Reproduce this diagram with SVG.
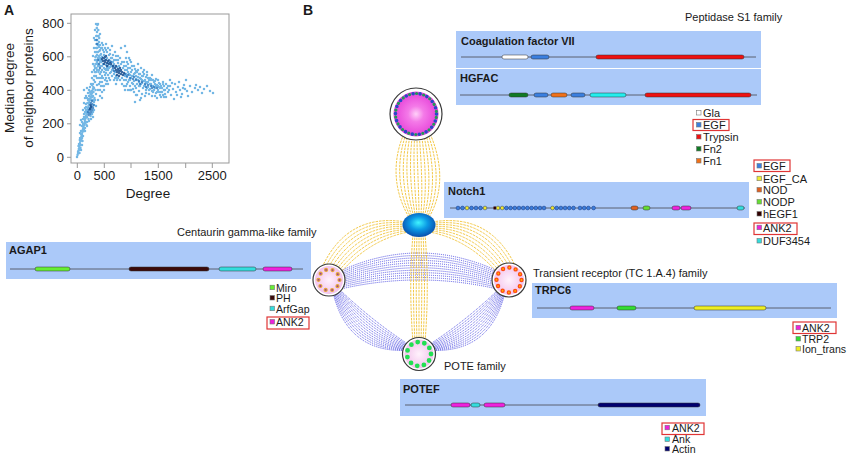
<svg xmlns="http://www.w3.org/2000/svg" width="851" height="456" viewBox="0 0 851 456">
<defs>
<radialGradient id="gMag" cx="50%" cy="50%" r="50%">
<stop offset="0" stop-color="#ffd0f8"/><stop offset="0.35" stop-color="#f47ae8"/><stop offset="1" stop-color="#e640d8"/>
</radialGradient>
<radialGradient id="gPale" cx="50%" cy="50%" r="50%">
<stop offset="0" stop-color="#fff2fc"/><stop offset="1" stop-color="#f3c3ec"/>
</radialGradient>
<radialGradient id="gBlue" cx="50%" cy="45%" r="55%" fx="48%" fy="40%">
<stop offset="0" stop-color="#40f4ff"/><stop offset="0.5" stop-color="#0a98e4"/><stop offset="1" stop-color="#0a4fae"/>
</radialGradient>
<g id="yL">
<path d="M406 222Q345 212 320 272M406 223.5Q348.6 216 323 272M406 225Q352.1 220 326 272M406 226.5Q355.7 224 329 272M406 228Q359.3 228 332 272M406 229.5Q362.9 232 335 272M406 231Q366.4 236 338 272M406 232.5Q370 240 341 272"/>
</g>
<g id="bL">
<path d="M339 289Q372.8 321.6 411 346M338.5 289.5Q370.5 324.4 410.6 346.4M338 290Q368.3 327.2 410.2 346.8M337.5 290.5Q366.1 330 409.8 347.2M337 291Q363.8 332.9 409.4 347.6M336.5 291.5Q361.6 335.7 409 348M336 292Q359.4 338.5 408.6 348.4M335.5 292.5Q357.1 341.4 408.2 348.8M335 293Q354.9 344.2 407.8 349.2M334.5 293.5Q352.7 347 407.4 349.6M334 294Q350.4 349.8 407 350M333.5 294.5Q348.2 352.7 406.6 350.4"/>
</g>
</defs>
<style>
text{font-family:"Liberation Sans",Arial,sans-serif;fill:#1a1a1a}
.t13{font-size:13px}
.t11{font-size:11px}
.t10{font-size:10.6px}
.lbl{font-size:11px;font-weight:bold}
.pl{font-weight:bold;font-size:14px}
.box{fill:#abc9f9}
.bb{fill:none;stroke:#e03535;stroke-width:1.2}
.ln{stroke:#5a6070;stroke-width:1;fill:none}
.dm{stroke:#333;stroke-width:0.5}
.sq{stroke:#777;stroke-width:0.6}
.yel{fill:none;stroke:#f0c234;stroke-width:0.9;stroke-dasharray:2.5 1}
.blu{fill:none;stroke:#4646e0;stroke-width:0.9;stroke-dasharray:1 1}
.nd{stroke:#3a3a3a;stroke-width:1.2}
.ax{stroke:#999;stroke-width:1;fill:none}
.nb{fill:#3c7ddb;stroke:#1a3a80;stroke-width:0.5}
.ny{fill:#f2e52a;stroke:#1a3a80;stroke-width:0.5}
.pt{fill:none;stroke-linecap:round}
</style>

<g id="panelA">
<text x="4" y="15" class="pl">A</text>
<rect x="71" y="14" width="158" height="149" class="ax"/>
<path class="ax" d="M67 157.3H71M67 123.8H71M67 90.3H71M67 56.8H71M67 23.3H71M77.3 163V168M104.3 163V168M131 163V168M158.3 163V168M185.7 163V168M212.3 163V168"/>
<g class="t13" text-anchor="end">
<text x="64" y="161.8">0</text><text x="64" y="128.3">200</text><text x="64" y="94.8">400</text><text x="64" y="61.3">600</text><text x="64" y="27.8">800</text>
</g>
<g class="t13" text-anchor="middle">
<text x="77.3" y="180">0</text><text x="104.3" y="180">500</text><text x="158.3" y="180">1500</text><text x="212.3" y="180">2500</text>
<text x="148" y="198" style="font-size:13.5px">Degree</text>
<text transform="translate(13.5,88) rotate(-90)" style="font-size:13.5px">Median degree</text>
<text transform="translate(32.5,88) rotate(-90)" style="font-size:13.5px">of neighbor proteins</text>
</g>
<path class="pt" stroke="#5aaae0" stroke-opacity="0.85" stroke-width="2.5" d="M77 157h0M77.5 155h0M78 153.5h0M78.3 151h0M78.8 149h0M79.2 147h0M79.5 145h0M80 143h0M80.2 141h0M80.7 139h0M81 137.5h0M81.5 136h0M81.3 140h0M82 134h0M82.4 132h0M82.8 130h0M83.1 128.5h0M83.6 127h0M84 125h0M83.8 129h0M84.4 123h0M84.9 121h0M85.2 119.5h0M85.7 118h0M86 116h0M86.4 114h0M85.5 123h0M86.8 112.5h0M87.2 111h0M87.6 109h0M88 107.5h0M88.5 106h0M89 104h0M87 117h0M88 113h0M89.4 102h0M89.9 100h0M90.3 98.5h0M91 97h0M91.4 95h0M92 93h0M91.8 100h0M92.5 91h0M92.9 89h0M93.3 87h0M80 133h0M82 126h0M84 117h0M85 112h0M86 107h0M88 100h0M89 96h0M90 92h0M78.5 146h0M79.8 140h0M81 134h0M83 124h0M84.5 118h0M86 110h0M87.5 103h0M89 99h0M90.5 94h0M91.5 91h0M83 136h0M85 128h0M87 122h0M79 150h0M80.5 145h0M82 138h0
M78 152h0M79 144h0M80 138h0M81 131h0M82 122h0M83 119h0M84 114h0M85 108h0M86 104h0M87 98h0M88 93h0M89 90h0M90 87h0M91 84h0M80.5 148h0M82.5 141h0M84.5 131h0M86.5 125h0M88.5 119h0M90.5 116h0M92 114h0M93 112h0M94 110h0M93 117h0M91 119h0M89 121h0M87 126h0M85 131h0M92 97h0M93 100h0M94 105h0M95 100h0M82 145h0M81 150h0M79.5 153h0M86 96h0M84 103h0M83 110h0M81 120h0M80 125h0M85 98h0M87 88h0M84 90h0
M93 84h0M93.8 80h0M94.2 76h0M94.8 72h0M95 68h0M95.5 64h0M96 60h0M96.3 56h0M96.8 52h0M97 48h0M96.5 44h0M97.2 40h0M96.2 36h0M97 32h0M96.8 28h0M97.5 25h0M98 24h0M98.3 30h0M98.6 36h0M99 42h0M98.8 47h0M99.5 51h0M94 88h0M93.5 92h0M95 82h0M96 76h0M97 70h0M97.5 64h0M98 58h0M95.4 57h0M94.6 66h0M96.2 48h0M97.8 44h0M99.2 38h0M100 45h0M100.5 55h0M101 60h0M94 70h0M95 52h0M96.5 68h0M93 96h0M94.5 98h0M95.5 90h0M92 85h0M97 78h0M98.5 72h0M99.5 66h0M100 34h0M95 40h0M101 48h0M102 43h0
M97 62h0M98 66h0M99 70h0M100 74h0M101 78h0M102 82h0M103 86h0M104 90h0M105 75h0M106 78h0M107 81h0M108 84h0M109 78h0M110 80h0M111 72h0M112 66h0M113 70h0M114 74h0M115 78h0M116 76h0M117 80h0M98 52h0M99 56h0M100 50h0M101 54h0M102 48h0M104 52h0M106 50h0M108 48h0M110 54h0M112 58h0M114 60h0M116 56h0M118 60h0M120 58h0M122 62h0M124 66h0M97 55h0M96 72h0M95 60h0M99 84h0M100 90h0M102 76h0M104 68h0M106 70h0M108 66h0M110 67h0M112 62h0M114 64h0M102 66h0M100 62h0M97 36h0M98 45h0M96 24h0M95 30h0M94 38h0M94 48h0M93 56h0M93 64h0M92 72h0M92 78h0
M100 58h0M101 62h0M102 57h0M103 64h0M104 55h0M105 60h0M106 65h0M107 58h0M108 63h0M109 68h0M110 61h0M111 66h0M112 70h0M102 70h0M104 72h0M106 73h0M108 75h0M100 66h0M101 72h0M103 50h0M105 48h0M107 52h0M109 55h0M111 58h0M113 62h0M103 78h0M105 80h0M107 68h0M110 73h0M112 76h0M99 78h0M100 82h0M101 86h0M98 90h0M102 92h0M104 86h0M106 84h0M99 60h0M97 85h0M113 55h0M115 52h0M116 60h0M114 66h0M117 67h0M118 63h0M119 70h0M96 94h0M98 100h0M100 96h0M102 98h0M94 102h0M96 106h0M105 69h0M108 70h0M103 45h0M106 44h0M110 50h0M112 46h0M118 56h0M121 48h0M125 46h0M127 52h0M118 78h0M120 80h0M116 84h0M114 80h0
M115 72h0M117 78h0M119 66h0M121 64h0M122 78h0M123 68h0M124 80h0M125 70h0M126 74h0M127 77h0M128 72h0M129 80h0M130 75h0M131 78h0M132 83h0M133 76h0M134 81h0M135 73h0M136 79h0M137 84h0M138 77h0M139 82h0M140 86h0M141 79h0M142 83h0M143 88h0M144 81h0M145 85h0M146 90h0M147 83h0M148 87h0M149 80h0M150 89h0M151 84h0M152 91h0M153 86h0M154 82h0M155 88h0M156 93h0M157 85h0M158 90h0M159 87h0M160 84h0M161 92h0M162 88h0M163 95h0M164 86h0M165 90h0M126 66h0M128 64h0M130 68h0M132 70h0M134 66h0M136 71h0M138 70h0M140 74h0M142 76h0M144 74h0M146 77h0M148 78h0M130 86h0M133 89h0M136 88h0M139 91h0M142 94h0M145 96h0M128 90h0M124 86h0M122 84h0M131 62h0M129 58h0M138 64h0M141 68h0M124 62h0M126 58h0M150 78h0M153 80h0M156 79h0M135 102h0M140 100h0M136 95h0M127 84h0M125 90h0M144 70h0M147 72h0M152 75h0M158 80h0M160 95h0M155 96h0
M125 76h0M126 80h0M127 70h0M128 82h0M129 74h0M130 80h0M131 72h0M132 76h0M133 84h0M134 74h0M135 86h0M136 76h0M137 72h0M138 80h0M139 86h0M140 78h0M141 84h0M142 80h0M143 76h0M144 86h0M145 80h0M146 82h0M147 88h0M148 82h0M149 90h0M150 84h0M151 80h0M152 86h0M153 92h0M154 90h0M155 84h0M156 86h0M157 92h0M158 86h0M159 92h0M160 88h0M161 86h0M162 92h0M163 84h0M164 90h0M165 94h0M131 90h0M134 92h0M137 95h0M141 98h0M146 93h0M149 94h0M152 96h0M157 98h0M161 97h0M164 97h0M126 86h0M130 90h0M135 69h0M139 74h0M143 72h0M147 75h0M151 79h0M155 81h0M159 83h0M163 82h0M128 68h0M132 66h0M127 62h0M130 60h0
M167 88h0M168 92h0M170 86h0M171 95h0M173 89h0M175 84h0M176 92h0M178 87h0M180 90h0M182 94h0M184 85h0M185 89h0M187 91h0M190 86h0M192 92h0M195 88h0M198 90h0M200 87h0M204 89h0M207 86h0M210 91h0M213 93h0M170 80h0M174 99h0M179 82h0M186 80h0M196 85h0M188 96h0M202 93h0M166 97h0M172 83h0M181 97h0M169 90h0M177 95h0M183 88h0M166 84h0M168 86h0"/>
<path class="pt" stroke="#2f78bd" stroke-opacity="0.8" stroke-width="2.5" d="M127 76h0M130 78h0M133 79h0M136 80h0M139 81h0M142 82h0M145 84h0M148 85h0M151 86h0M154 87h0M157 88h0M134 77h0M140 84h0M146 87h0M152 88h0M88 112h0M89 110h0M90 108h0M91 106h0M92 104h0M89.5 113h0M90.5 111h0M91.5 109h0M92.5 107h0M90 114h0M91 112h0M92 110h0M93 108h0M93.5 105h0M88.5 115h0M91 103h0M92 101h0M98 60h0M99 64h0M100 68h0M109 60h0M111 62h0M113 68h0M114 71h0M125 74h0M128 75h0M97 44h0M96.5 40h0"/>
<path class="pt" stroke="#174f8f" stroke-opacity="0.85" stroke-width="2.5" d="M102 59h0M103 61h0M104 58h0M105 62h0M106 60h0M107 63h0M104 64h0M105 57h0M106 56h0M103 58h0M108 61h0M109 64h0M107 66h0M104 61h0M110 63h0M116 70h0M117 72h0M118 69h0M119 73h0M120 71h0M121 74h0M122 72h0M119 76h0M117 75h0M118 71h0M120 68h0M121 70h0M123 75h0M124 73h0M115 68h0M113 66h0M111 64h0M116 66h0M90 109h0M91 107h0M90.5 105h0"/>
</g>

<text x="303" y="15" class="pl">B</text>

<g id="connectors">
<path class="yel" d="M403.8 134C391.8 162 393.8 192 409.4 218M406 134C396 162 398 192 411 218M408.2 134C400.2 162 402.2 192 412.6 218M410.4 134C404.4 162 406.4 192 414.2 218M412.6 134C408.6 162 410.6 192 415.8 218M414.8 134C412.8 162 414.8 192 417.4 218M417 134C417 162 419 192 419 218M419.2 134C421.2 162 423.2 192 420.6 218M421.4 134C425.4 162 427.4 192 422.2 218M423.6 134C429.6 162 431.6 192 423.8 218M425.8 134C433.8 162 435.8 192 425.4 218M428 134C438 162 440 192 427 218M430.2 134C442.2 162 444.2 192 428.6 218"/>
<path class="blu" d="M338 272Q419 234 500 272M338 273.6Q419 237.3 500 273.6M338 275.2Q419 240.6 500 275.2M338 276.8Q419 243.9 500 276.8M338 278.4Q419 247.2 500 278.4M338 280Q419 250.5 500 280M338 281.6Q419 253.8 500 281.6M338 283.2Q419 257.1 500 283.2M338 284.8Q419 260.4 500 284.8M338 286.4Q419 263.7 500 286.4M338 288Q419 267 500 288M338 289.6Q419 270.3 500 289.6"/>
<use href="#bL" class="blu"/>
<use href="#bL" class="blu" transform="translate(838,0) scale(-1,1)"/>
<use href="#yL" class="yel"/>
<use href="#yL" class="yel" transform="translate(838,0) scale(-1,1)"/>
<path class="yel" d="M413 234C410 270 410 305 413 342M415 234C413 270 413 305 415 342M417 234C416 270 416 305 417 342M419 234C419 270 419 305 419 342M421 234C422 270 422 305 421 342M423 234C425 270 425 305 423 342M425 234C428 270 428 305 425 342"/>
</g>

<g id="node-peptidase">
<circle cx="416" cy="114" r="26" fill="#fff" class="nd"/>
<circle cx="416" cy="114" r="22.5" fill="url(#gMag)"/>
<circle cx="416" cy="114" r="20.5" fill="none" stroke="#2848c8" stroke-width="3.6" stroke-linecap="round" stroke-dasharray="0 7.156"/>
<circle cx="416" cy="114" r="20.5" fill="none" stroke="#1f9a55" stroke-width="3.2" stroke-linecap="round" stroke-dasharray="0 7.156" stroke-dashoffset="3.578"/>
</g>
<g id="node-notch">
<ellipse cx="419" cy="225" rx="16.5" ry="12" fill="url(#gBlue)"/>
</g>
<g id="node-centaurin">
<circle cx="329" cy="280" r="16" fill="#fff" class="nd"/>
<circle cx="329" cy="280" r="14" fill="url(#gPale)"/>
<circle cx="329" cy="280" r="10.5" fill="none" stroke="#e2a838" stroke-width="4.2" stroke-linecap="round" stroke-dasharray="0 6.597"/>
<circle cx="329" cy="280" r="10.5" fill="none" stroke="#9a3c9c" stroke-width="1.8" stroke-linecap="round" stroke-dasharray="0 6.597"/>
</g>
<g id="node-transient">
<circle cx="509" cy="280" r="17" fill="#fff" class="nd"/>
<circle cx="509" cy="280" r="15" fill="url(#gPale)"/>
<circle cx="509" cy="280" r="12.5" fill="none" stroke="#ff4a12" stroke-width="4.4" stroke-linecap="round" stroke-dasharray="0 6.545"/>
<circle cx="509" cy="280" r="12.5" fill="none" stroke="#ffb400" stroke-width="1.8" stroke-linecap="round" stroke-dasharray="0 6.545"/>
</g>
<g id="node-pote">
<circle cx="419" cy="354" r="16.5" fill="#fff" class="nd"/>
<circle cx="419" cy="354" r="14.5" fill="url(#gPale)"/>
<circle cx="419" cy="354" r="12" fill="none" stroke="#22e052" stroke-width="4.8" stroke-linecap="round" stroke-dasharray="0 6.854"/>
</g>

<g id="family-peptidase">
<text x="685" y="21" class="t11">Peptidase S1 family</text>
<rect x="456" y="31" width="305" height="37" class="box"/>
<text x="461" y="44.5" class="lbl">Coagulation factor VII</text>
<path class="ln" d="M461 57H756"/>
<rect x="502" y="55" width="26" height="4" rx="2" fill="#fff" class="dm"/>
<rect x="531" y="55" width="18" height="4" rx="2" fill="#3a7fe0" class="dm"/>
<rect x="596" y="55" width="148" height="4" rx="2" fill="#ee1111" class="dm"/>
<rect x="456" y="69" width="305" height="36" class="box"/>
<text x="460" y="82" class="lbl">HGFAC</text>
<path class="ln" d="M460 95H757"/>
<rect x="509" y="93" width="19" height="4" rx="2" fill="#107a24" class="dm"/>
<rect x="534" y="93" width="14" height="4" rx="2" fill="#3a7fe0" class="dm"/>
<rect x="551" y="93" width="16" height="4" rx="2" fill="#f07018" class="dm"/>
<rect x="571" y="93" width="14" height="4" rx="2" fill="#3a7fe0" class="dm"/>
<rect x="590" y="93" width="36" height="4" rx="2" fill="#22eeee" class="dm"/>
<rect x="645" y="93" width="106" height="4" rx="2" fill="#ee1111" class="dm"/>
<rect x="696.5" y="110.5" width="4.5" height="4.5" fill="#fff" class="sq"/>
<rect x="696.5" y="122.5" width="4.5" height="4.5" fill="#3a7fe0" class="sq"/>
<rect x="696.5" y="134.5" width="4.5" height="4.5" fill="#ee1111" class="sq"/>
<rect x="696.5" y="146.5" width="4.5" height="4.5" fill="#107a24" class="sq"/>
<rect x="696.5" y="158.5" width="4.5" height="4.5" fill="#f07018" class="sq"/>
<g class="t11"><text x="703" y="117">Gla</text><text x="703" y="129">EGF</text><text x="703" y="141">Trypsin</text><text x="703" y="153">Fn2</text><text x="703" y="165">Fn1</text></g>
<rect x="693" y="119.5" width="36" height="11" class="bb"/>
</g>

<g id="family-notch">
<rect x="444" y="182" width="305" height="36" class="box"/>
<text x="448" y="194.5" class="lbl">Notch1</text>
<path class="ln" d="M450 208H745"/>
<circle cx="458" cy="208" r="1.9" class="nb"/><circle cx="462.5" cy="208" r="1.9" class="nb"/><circle cx="467" cy="208" r="1.9" class="ny"/><circle cx="471.5" cy="208" r="1.9" class="nb"/><circle cx="476" cy="208" r="1.9" class="nb"/><circle cx="480.5" cy="208" r="1.9" class="nb"/><circle cx="485" cy="208" r="1.9" class="ny"/>
<rect x="493.5" y="206.5" width="2.5" height="3" fill="#300000"/>
<circle cx="498" cy="208" r="1.9" class="ny"/><circle cx="502.2" cy="208" r="1.9" class="ny"/><circle cx="506.4" cy="208" r="1.9" class="nb"/><circle cx="510.6" cy="208" r="1.9" class="nb"/><circle cx="514.8" cy="208" r="1.9" class="nb"/><circle cx="519" cy="208" r="1.9" class="nb"/><circle cx="523.2" cy="208" r="1.9" class="nb"/><circle cx="527.4" cy="208" r="1.9" class="nb"/><circle cx="531.6" cy="208" r="1.9" class="nb"/><circle cx="535.8" cy="208" r="1.9" class="nb"/><circle cx="540" cy="208" r="1.9" class="nb"/><circle cx="544" cy="208" r="1.9" class="nb"/>
<circle cx="552.5" cy="208" r="1.9" class="ny"/><circle cx="556.7" cy="208" r="1.9" class="nb"/><circle cx="560.9" cy="208" r="1.9" class="nb"/><circle cx="565.1" cy="208" r="1.9" class="nb"/><circle cx="569.3" cy="208" r="1.9" class="nb"/><circle cx="573.5" cy="208" r="1.9" class="nb"/>
<circle cx="580" cy="208" r="1.9" class="nb"/><circle cx="584.2" cy="208" r="1.9" class="nb"/><circle cx="588.4" cy="208" r="1.9" class="nb"/><circle cx="593.6" cy="208" r="1.9" class="nb"/>
<rect x="631" y="206" width="7" height="4" rx="2" fill="#e06020" class="dm"/>
<rect x="643" y="206" width="7" height="4" rx="2" fill="#66dd33" class="dm"/>
<rect x="672" y="206" width="8" height="4" rx="2" fill="#ee22dd" class="dm"/>
<rect x="681" y="206" width="10" height="4" rx="2" fill="#ee22dd" class="dm"/>
<rect x="737" y="206" width="7" height="4" rx="2" fill="#33dddd" class="dm"/>
<rect x="757" y="163.5" width="4.5" height="4.5" fill="#3a7fe0" class="sq"/>
<rect x="757" y="176.2" width="4.5" height="4.5" fill="#eeee33" class="sq"/>
<rect x="757" y="187.5" width="4.5" height="4.5" fill="#e06020" class="sq"/>
<rect x="757" y="199.5" width="4.5" height="4.5" fill="#66dd33" class="sq"/>
<rect x="757" y="211.5" width="4.5" height="4.5" fill="#300000" class="sq"/>
<rect x="757" y="225.2" width="4.5" height="4.5" fill="#ee22dd" class="sq"/>
<rect x="757" y="238.5" width="4.5" height="4.5" fill="#33dddd" class="sq"/>
<g class="t11"><text x="763" y="170">EGF</text><text x="763" y="182.7">EGF_CA</text><text x="763" y="194">NOD</text><text x="763" y="206">NODP</text><text x="763" y="218">hEGF1</text><text x="763" y="231.7">ANK2</text><text x="763" y="245">DUF3454</text></g>
<rect x="754" y="160" width="36" height="11.5" class="bb"/>
<rect x="754" y="223" width="43" height="11.5" class="bb"/>
</g>

<g id="family-centaurin">
<text x="177" y="236" class="t11">Centaurin gamma-like family</text>
<rect x="6" y="242" width="305" height="37" class="box"/>
<text x="9" y="253.5" class="lbl">AGAP1</text>
<path class="ln" d="M10 269H303"/>
<rect x="35" y="267" width="35" height="4" rx="2" fill="#66ee33" class="dm"/>
<rect x="129" y="267" width="80" height="4" rx="2" fill="#3a0a0a" class="dm"/>
<rect x="219" y="267" width="37" height="4" rx="2" fill="#33dddd" class="dm"/>
<rect x="263" y="267" width="29" height="4" rx="2" fill="#ee22dd" class="dm"/>
<rect x="270" y="285.2" width="4.5" height="4.5" fill="#66ee33" class="sq"/>
<rect x="270" y="295.5" width="4.5" height="4.5" fill="#3a0a0a" class="sq"/>
<rect x="270" y="306.2" width="4.5" height="4.5" fill="#33dddd" class="sq"/>
<rect x="270" y="319.5" width="4.5" height="4.5" fill="#ee22dd" class="sq"/>
<g class="t10"><text x="276" y="291.7">Miro</text><text x="276" y="302">PH</text><text x="276" y="312.7">ArfGap</text><text x="276" y="326">ANK2</text></g>
<rect x="267" y="317" width="42" height="12" class="bb"/>
</g>

<g id="family-transient">
<text x="533" y="277.3" class="t11">Transient receptor (TC 1.A.4) family</text>
<rect x="532" y="283" width="305" height="35" class="box"/>
<text x="535" y="293.5" class="lbl">TRPC6</text>
<path class="ln" d="M537 308H831"/>
<rect x="570" y="306" width="24" height="4" rx="2" fill="#ee22dd" class="dm"/>
<rect x="617" y="306" width="19" height="4" rx="2" fill="#33dd33" class="dm"/>
<rect x="694" y="306" width="72" height="4" rx="2" fill="#eeee22" class="dm"/>
<rect x="796" y="325.3" width="4.5" height="4.5" fill="#ee22dd" class="sq"/>
<rect x="796" y="336.5" width="4.5" height="4.5" fill="#33dd33" class="sq"/>
<rect x="796" y="346.5" width="4.5" height="4.5" fill="#eeee22" class="sq"/>
<g class="t10"><text x="802" y="331.7">ANK2</text><text x="802" y="342.7">TRP2</text><text x="802" y="352.9">Ion_trans</text></g>
<rect x="793" y="322" width="43" height="11.5" class="bb"/>
</g>

<g id="family-pote">
<text x="444" y="370" class="t11">POTE family</text>
<rect x="400" y="379" width="306" height="37" class="box"/>
<text x="403" y="392.5" class="lbl">POTEF</text>
<path class="ln" d="M405 405H700"/>
<rect x="451" y="403" width="19" height="4" rx="2" fill="#ee22dd" class="dm"/>
<rect x="471" y="403" width="9" height="4" rx="2" fill="#33dddd" class="dm"/>
<rect x="484" y="403" width="21" height="4" rx="2" fill="#ee22dd" class="dm"/>
<rect x="598" y="403" width="102" height="4" rx="2" fill="#000070" class="dm"/>
<rect x="665" y="425.3" width="4.5" height="4.5" fill="#ee22dd" class="sq"/>
<rect x="665" y="437" width="4.5" height="4.5" fill="#33dddd" class="sq"/>
<rect x="665" y="446.5" width="4.5" height="4.5" fill="#000070" class="sq"/>
<g class="t10"><text x="672" y="431.7">ANK2</text><text x="672" y="443.3">Ank</text><text x="672" y="452.9">Actin</text></g>
<rect x="662" y="423" width="42" height="11.5" class="bb"/>
</g>
</svg>
